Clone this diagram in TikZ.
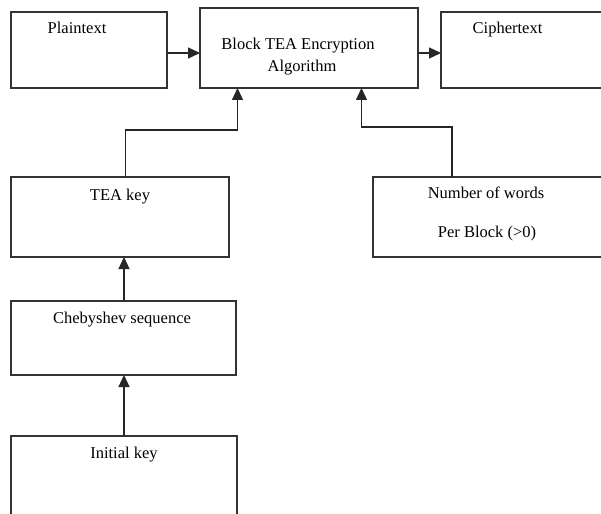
\documentclass[tikz,border=0pt]{standalone}
\usepackage{fontspec}
\setmainfont{Liberation Serif}
\usetikzlibrary{arrows.meta,calc}
\begin{document}
\begin{tikzpicture}[x=1pt,y=-1pt,
  box/.style={draw=black!80,line width=1.3pt,rectangle,inner sep=0pt,outer sep=0pt},
  lbl/.style={font=\fontsize{16.5}{18}\selectfont,inner sep=0pt,anchor=base},
  arr/.style={draw=black!85,line width=1.3pt,-{Triangle[length=12pt,width=11pt]}}]
\clip (0,0) rectangle (601,513);
\fill[white] (0,0) rectangle (601,513);
% boxes
\node[box,minimum width=156pt,minimum height=76pt] (plain) at (89,50) {};
\node[box,minimum width=218pt,minimum height=80pt] (block) at (309,48) {};
\node[box,minimum width=171pt,minimum height=76pt] (cipher) at (526.5,50) {};
\node[box,minimum width=218pt,minimum height=80pt] (tea) at (120,217) {};
\node[box,minimum width=239pt,minimum height=80pt] (num) at (492.5,217) {};
\node[box,minimum width=225pt,minimum height=74pt] (cheb) at (123.5,338) {};
\node[box,minimum width=226pt,minimum height=94pt] (init) at (124,483) {};
% labels
\node[lbl] (tplain) at (77,34) {Plaintext};
\node[lbl] (tblock1) at (298,50) {Block TEA Encryption};
\node[lbl] (tblock2) at (302,72) {Algorithm};
\node[lbl] (tcipher) at (507.5,34) {Ciphertext};
\node[lbl] (ttea) at (120,200) {TEA key};
\node[lbl] (tnum1) at (486,198) {Number of words};
\node[lbl] (tnum2) at (487,237) {Per Block (>0)};
\node[lbl] (tcheb) at (122,323) {Chebyshev sequence};
\node[lbl] (tinit) at (124,458) {Initial key};
% connectors
\draw[arr] ([yshift=-3pt]plain.east) -- ([yshift=-3pt]plain.east -| block.west);
\draw[arr] ([yshift=-5pt]block.east) -- ([yshift=-5pt]block.east -| cipher.west);
\draw[arr] ([xshift=5.5pt]tea.north) -- ++(0,-47) -| ([xshift=-71.5pt]block.south);
\draw[arr] ([xshift=-40.5pt]num.north) -- ++(0,-50) -| ([xshift=52.5pt]block.south);
\draw[arr] ([xshift=0.5pt]cheb.north) -- ([xshift=0.5pt]cheb.north |- tea.south);
\draw[arr] (init.north) -- (init.north |- cheb.south);
\end{tikzpicture}
\end{document}
